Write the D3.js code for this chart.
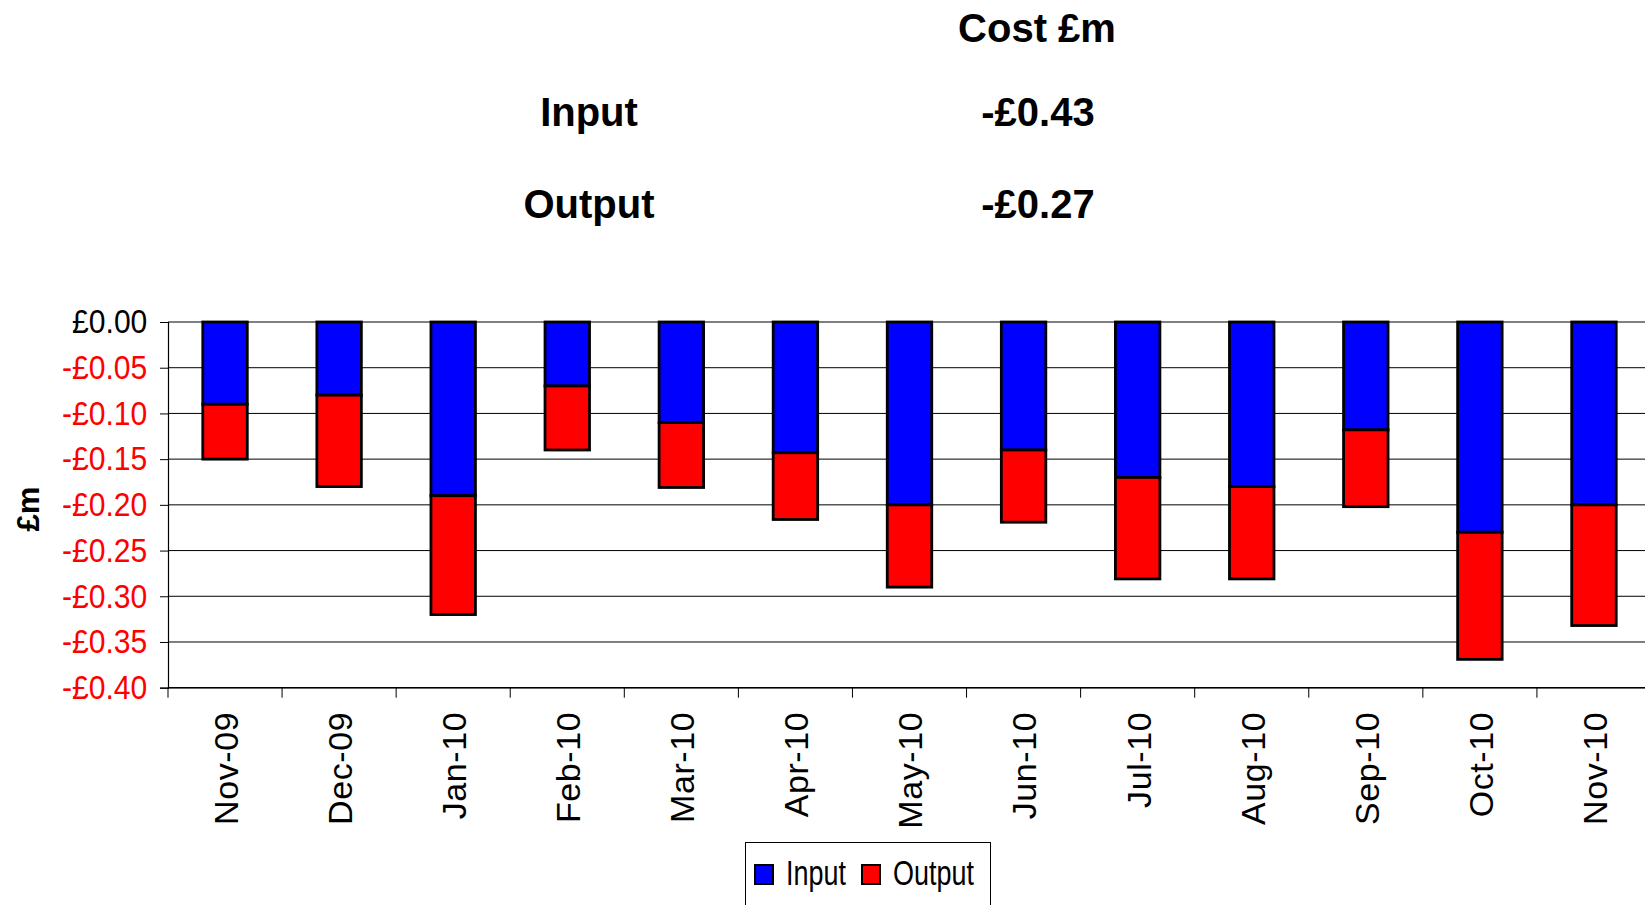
<!DOCTYPE html>
<head>
    <meta charset="utf-8">
    <script src="https://cdn.jsdelivr.net/npm/d3@7"></script>
    <style>
        body { margin: 0; background: #fff; }
        text { font-family: "Liberation Sans", Arial, sans-serif; }
    </style>
</head>
<body>
    <div id="chart"></div>
    <script>
        const width = 1645, height = 905;

        // data (£m)
        const months = ["Nov-09", "Dec-09", "Jan-10", "Feb-10", "Mar-10", "Apr-10", "May-10",
            "Jun-10", "Jul-10", "Aug-10", "Sep-10", "Oct-10", "Nov-10"];
        const inputCost = [-0.09, -0.08, -0.19, -0.07, -0.11, -0.143, -0.20, -0.14, -0.17, -0.18, -0.118, -0.23, -0.20];
        const outputCost = [-0.06, -0.10, -0.13, -0.07, -0.071, -0.073, -0.09, -0.079, -0.111, -0.101, -0.084, -0.139, -0.132];
        const yTicks = [0, -0.05, -0.10, -0.15, -0.20, -0.25, -0.30, -0.35, -0.40];
        const seriesNames = ["Input", "Output"];
        const seriesColors = ["#0000ff", "#ff0000"];
        // summary block at the top
        const summaryHeader = "Cost £m";
        const summaryRows = [["Input", "-£0.43"], ["Output", "-£0.27"]];

        // plot runs a little past the right edge, as in the original
        const margin = { top: 322, right: -6, bottom: 218, left: 168 };

        const svg = d3.select("#chart").append("svg")
            .attr("width", width)
            .attr("height", height);

        // summary text
        svg.append("text")
            .attr("x", 1037).attr("y", 42)
            .attr("text-anchor", "middle")
            .style("font-size", "40px").style("font-weight", "bold")
            .text(summaryHeader);

        summaryRows.forEach(function (r, i) {
            const yy = 126 + i * 92;
            svg.append("text")
                .attr("x", 589).attr("y", yy)
                .attr("text-anchor", "middle")
                .style("font-size", "40px").style("font-weight", "bold")
                .text(r[0]);
            svg.append("text")
                .attr("x", 1038).attr("y", yy)
                .attr("text-anchor", "middle")
                .style("font-size", "40px").style("font-weight", "bold")
                .text(r[1]);
        });

        // scales
        const x = d3.scaleBand()
            .domain(months)
            .range([margin.left, width - margin.right])
            .paddingInner(0.61)
            .paddingOuter(0.305);

        const y = d3.scaleLinear()
            .domain([-0.40, 0])
            .range([height - margin.bottom + 0.7, margin.top]);

        // gridlines
        svg.append("g")
            .selectAll("line")
            .data(yTicks)
            .join("line")
            .attr("x1", margin.left).attr("x2", width)
            .attr("y1", d => y(d)).attr("y2", d => y(d))
            .attr("stroke", "#000")
            .attr("stroke-width", 1);

        // y axis
        const fmt = d => (d < 0 ? "-" : "") + "£" + Math.abs(d).toFixed(2);
        const yAxis = svg.append("g")
            .attr("transform", `translate(${margin.left},0)`)
            .call(d3.axisLeft(y).tickValues(yTicks).tickFormat(fmt).tickSize(8).tickPadding(14));
        yAxis.select(".domain").attr("stroke", "#000").attr("stroke-width", 1.2);
        yAxis.selectAll(".tick line").attr("stroke", "#000");
        yAxis.selectAll(".tick text")
            .style("font-size", "32px")
            .style("font-family", "'Liberation Sans', Arial, sans-serif")
            .attr("transform", "scale(0.94,1.05)")
            .attr("fill", d => d < 0 ? "#ff0000" : "#000");

        // y axis title
        svg.append("text")
            .attr("transform", "translate(39,509) rotate(-90)")
            .attr("text-anchor", "middle")
            .style("font-size", "31px").style("font-weight", "bold")
            .text("£m");

        // x axis
        const x0 = y(-0.40);
        svg.append("line")
            .attr("x1", margin.left).attr("x2", width)
            .attr("y1", x0).attr("y2", x0)
            .attr("stroke", "#000").attr("stroke-width", 1.5);

        const step = x.step();
        svg.append("g")
            .selectAll("line")
            .data(d3.range(months.length + 1))
            .join("line")
            .attr("x1", i => margin.left + i * step).attr("x2", i => margin.left + i * step)
            .attr("y1", x0).attr("y2", x0 + 10)
            .attr("stroke", "#000");

        svg.append("g")
            .selectAll("text")
            .data(months)
            .join("text")
            .attr("transform", d => `translate(${x(d) + x.bandwidth() / 2},${x0 + 24}) rotate(-90)`)
            .attr("dy", "0.38em")
            .attr("text-anchor", "end")
            .style("font-size", "34px")
            .style("letter-spacing", "0.6px")
            .text(d => d);

        // stacked bars
        const table = months.map((m, i) => ({ month: m, Input: inputCost[i], Output: outputCost[i] }));
        const stacked = d3.stack()
            .keys(seriesNames)
            .offset(d3.stackOffsetDiverging)(table);

        svg.append("g")
            .selectAll("g")
            .data(stacked)
            .join("g")
            .attr("fill", (d, i) => seriesColors[i])
            .selectAll("rect")
            .data(d => d)
            .join("rect")
            .attr("x", d => x(d.data.month))
            .attr("width", x.bandwidth())
            .attr("y", d => Math.min(y(d[0]), y(d[1])))
            .attr("height", d => Math.abs(y(d[1]) - y(d[0])))
            .attr("stroke", "#000")
            .attr("stroke-width", 2.8);

        // legend
        const legend = svg.append("g");
        legend.append("rect")
            .attr("x", 745.5).attr("y", 842.5)
            .attr("width", 245).attr("height", 80)
            .attr("fill", "#fff")
            .attr("stroke", "#000");

        const legendX = [755, 862];
        seriesNames.forEach(function (s, i) {
            legend.append("rect")
                .attr("x", legendX[i]).attr("y", 865)
                .attr("width", 18).attr("height", 19)
                .attr("fill", seriesColors[i])
                .attr("stroke", "#000").attr("stroke-width", 2);
            legend.append("text")
                .attr("transform", `translate(${legendX[i] + 31},885) scale(0.77,1)`)
                .style("font-size", "35px")
                .text(s);
        });
    </script>
</body>
